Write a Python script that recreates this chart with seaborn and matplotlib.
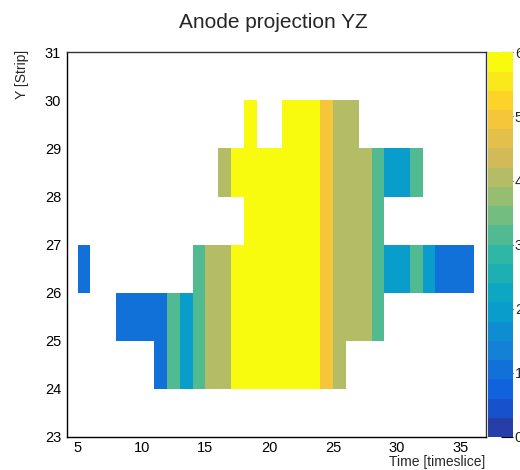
import numpy as np
import pandas as pd
import matplotlib
matplotlib.use("Agg")
import matplotlib.pyplot as plt
from matplotlib.colors import ListedColormap, LinearSegmentedColormap
import seaborn as sns

# ---------------- data ----------------
title = "Anode projection YZ"
x_label = "Time [timeslice]"
y_label = "Y [Strip]"

x_bin_first, x_bin_last = 4, 36      # timeslice bins (each 1 wide)
y_bin_first, y_bin_last = 23, 30     # strip bins (each 1 wide)
x_view = (4.14, 36.93)
y_view = (23, 31)

# per strip row: first timeslice of the listed run and the bin contents
row_y = [24, 25, 26, 27, 28, 29]
row_start = [11, 8, 5, 18, 16, 18]
row24 = [1, 3, 2, 3, 4, 4, 6, 6, 6, 6, 6, 6, 6, 5, 4]
row25 = [1, 1, 1, 1, 3, 2, 3, 4, 4, 6, 6, 6, 6, 6, 6, 6, 5, 4, 4, 4, 3]
row26 = [1, 0, 0, 0, 0, 0, 0, 0, 0, 3, 4, 4, 6, 6, 6, 6, 6, 6, 6, 5, 4, 4, 4, 3,
         2, 2, 3, 2, 1, 1, 1]
row27 = [6, 6, 6, 6, 6, 6, 5, 4, 4, 4, 3]
row28 = [4, 6, 6, 6, 6, 6, 6, 6, 5, 4, 4, 4, 3, 2, 2, 3]
row29 = [6, 0, 0, 6, 6, 6, 5, 4, 4]
rows = [row24, row25, row26, row27, row28, row29]

x_ticks = [5, 10, 15, 20, 25, 30, 35]
y_ticks = [23, 24, 25, 26, 27, 28, 29, 30, 31]
cbar_ticks = [0, 1, 2, 3, 4, 5, 6]
z_min, z_max = 0, 6
n_contours = 20

# ---------------- grid ----------------
x_bins = np.arange(x_bin_first, x_bin_last + 1)
y_bins = np.arange(y_bin_first, y_bin_last + 1)
grid = np.zeros((len(y_bins), len(x_bins)))
for y, x0, vals in zip(row_y, row_start, rows):
    i = y - y_bin_first
    j = x0 - x_bin_first
    grid[i, j:j + len(vals)] = vals
df = pd.DataFrame(grid, index=y_bins, columns=x_bins)

# ---------------- ROOT kBird palette ----------------
stops = [0.0000, 0.1250, 0.2500, 0.3750, 0.5000, 0.6250, 0.7500, 0.8750, 1.0000]
red = [0.2082, 0.0592, 0.0780, 0.0232, 0.1802, 0.5301, 0.8186, 0.9956, 0.9764]
green = [0.1664, 0.3599, 0.5041, 0.6419, 0.7178, 0.7492, 0.7328, 0.7862, 0.9832]
blue = [0.5293, 0.8684, 0.8385, 0.7914, 0.6425, 0.4662, 0.3499, 0.1968, 0.0539]
bird = LinearSegmentedColormap.from_list(
    "bird", list(zip(stops, zip(red, green, blue))), N=255)
band_colors = [bird(int((i + 0.99) * 255 / n_contours)) for i in range(n_contours)]
cmap = ListedColormap(band_colors)

# ---------------- figure ----------------
sns.set_style("white")
plt.rcParams["font.family"] = ["Liberation Sans", "DejaVu Sans"]

W, H = 520, 470
fig = plt.figure(figsize=(W / 100, H / 100), dpi=100)
ax_l, ax_r, ax_t, ax_b = 66.7, 485.7, 52.3, 437.0
ax = fig.add_axes([ax_l / W, 1 - ax_b / H, (ax_r - ax_l) / W, (ax_b - ax_t) / H])
cax = fig.add_axes([487.7 / W, 1 - ax_b / H, 25.0 / W, (ax_b - ax_t) / H])

sns.heatmap(df, mask=(df == 0), cmap=cmap, vmin=z_min, vmax=z_max,
            ax=ax, cbar_ax=cax, xticklabels=False, yticklabels=False)

# map physical coordinates -> heatmap cell index coordinates
def xp(v):
    return np.asarray(v, dtype=float) - x_bin_first

def yp(v):
    return np.asarray(v, dtype=float) - y_bin_first

ax.set_xlim(xp(x_view[0]), xp(x_view[1]))
ax.set_ylim(yp(y_view[0]), yp(y_view[1]))

ax.set_xticks(xp(x_ticks))
ax.set_xticklabels([str(t) for t in x_ticks])
ax.set_xticks(xp(np.arange(5, 37)), minor=True)
ax.set_yticks(yp(y_ticks))
ax.set_yticklabels([str(t) for t in y_ticks])
ax.set_yticks(yp(np.arange(23, 31.001, 0.2)), minor=True)

for s in ax.spines.values():
    s.set_visible(True)
    s.set_color("#333333")
    s.set_linewidth(1.0)
ax.spines["left"].set_color("black")
ax.spines["bottom"].set_color("black")

ax.tick_params(axis="both", which="both", direction="in", top=False, right=False,
               width=0.8, color="black", labelsize=10.5, labelcolor="black")
ax.tick_params(axis="x", which="major", length=8.6, pad=3)
ax.tick_params(axis="x", which="minor", length=4.3)
ax.tick_params(axis="y", which="major", length=7.2, pad=4)
ax.tick_params(axis="y", which="minor", length=3.6)
ax.set_xlabel("")
ax.set_ylabel("")

# colour bar
cax.set_yticks(cbar_ticks)
cax.set_yticklabels([str(t) for t in cbar_ticks])
cax.tick_params(axis="y", direction="in", length=9, width=0.8, color="black",
                pad=1.5, labelsize=10.5, right=True, left=False)

# texts
fig.text(0.525, 1 - 28.3 / H, title, ha="center", va="baseline", fontsize=15)
fig.text(21.7 / W, 1 - 50 / H, y_label, rotation=90, ha="center", va="top",
         fontsize=10)
fig.text(485.5 / W, 1 - 462 / H, x_label, ha="right", va="center", fontsize=10)

fig.savefig("out.png", dpi=100)
